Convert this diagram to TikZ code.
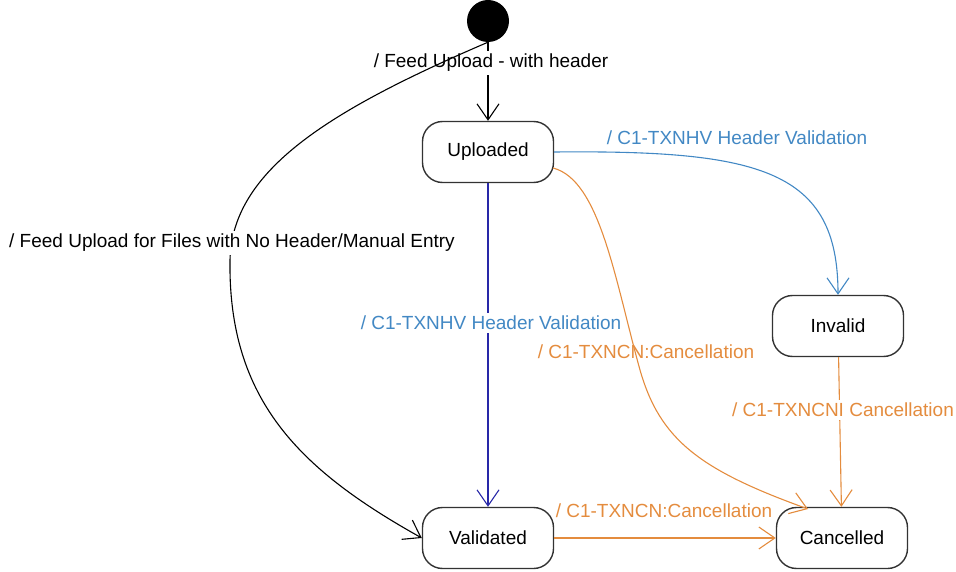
\documentclass[tikz,border=0pt]{standalone}
\usepackage{fontspec}
\setmainfont{Liberation Sans}
\usetikzlibrary{arrows.meta}
\definecolor{cancelorange}{RGB}{228,140,62}
\definecolor{checkblue}{RGB}{66,136,196}
\definecolor{passnavy}{RGB}{40,40,168}

\begin{document}
\begin{tikzpicture}[
  x=1pt,
  y=-1pt,
  state/.style={draw=black!80,line width=1.4pt,rounded corners=20pt,fill=white,minimum width=131pt,minimum height=61pt,font=\fontsize{19}{22}\selectfont},
  start/.style={circle,fill=black,inner sep=0pt,minimum size=42pt},
  trans/.style={-{Straight Barb[length=16pt,width=22pt,line width=1.1pt]},line width=1.1pt},
  lab/.style={font=\fontsize{19}{22}\selectfont,inner sep=1pt},
  cut/.style={lab,fill=white,inner ysep=3pt}
]
\useasboundingbox (0,0) rectangle (956,572);
\node[start] (init) at (488,21) {};
\node[state] (upl) at (488,152) {Uploaded};
\node[state] (inv) at (838,326) {Invalid};
\node[state] (val) at (488,538) {Validated};
\node[state] (can) at (842,538) {Cancelled};

\draw[trans] (init) -- (upl);
\node[cut] (lupl) at (491,63) {/ Feed Upload - with header};
\draw[trans] (init.south) .. controls (330,110) and (232,170) .. (230,260) .. controls (228,400) and (300,470) .. (val.west);
\node[cut] (lval) at (232,243) {/ Feed Upload for Files with No Header/Manual Entry};

\draw[trans,checkblue] (upl.east) .. controls (760,150) and (838,170) .. (inv.north);
\node[lab,text=checkblue] (linv) at (737,138) {/ C1-TXNHV Header Validation};

\draw[trans,passnavy] (upl) -- (val);
\node[cut,text=checkblue] (lpass) at (491,323) {/ C1-TXNHV Header Validation};

\draw[trans,cancelorange] (553,168) .. controls (600,180) and (615,280) .. (640,370) .. controls (660,440) and (700,470) .. (808,509);
\node[lab,text=cancelorange] (lcan) at (646,352) {/ C1-TXNCN:Cancellation};

\draw[trans,cancelorange] (inv) -- (can);
\node[cut,text=cancelorange] (linvc) at (843,410) {/ C1-TXNCNI Cancellation};

\draw[trans,cancelorange] (val) -- (can);
\node[lab,text=cancelorange] (lvalc) at (664,511) {/ C1-TXNCN:Cancellation};
\end{tikzpicture}
\end{document}
